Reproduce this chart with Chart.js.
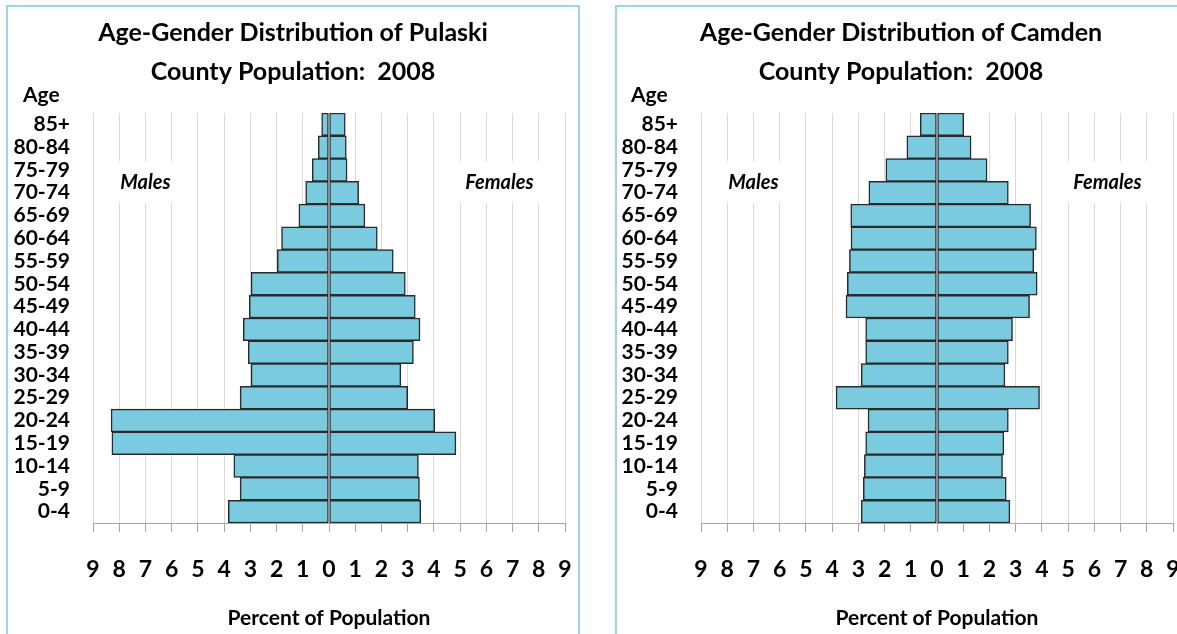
<!DOCTYPE html>
<html><head><meta charset="utf-8">
<script src="https://cdn.jsdelivr.net/npm/chart.js@4.4.0/dist/chart.umd.min.js"></script>
<style>
html,body{margin:0;padding:0;background:#fff;width:1177px;height:634px;overflow:hidden;position:relative;}
.frame{position:absolute;top:5px;height:700px;border:2px solid #9dd3e4;box-sizing:border-box;}
.wrap{position:absolute;top:0;width:590px;height:634px;}
</style></head><body>
<div class="frame" style="left:6px;width:574px"></div>
<div class="frame" style="left:615px;width:600px"></div>
<div class="wrap" style="left:0"><canvas id="c1"></canvas></div>
<div class="wrap" style="left:608px"><canvas id="c2"></canvas></div>
<script>
const ageGroups = ['85+','80-84','75-79','70-74','65-69','60-64','55-59','50-54','45-49','40-44','35-39','30-34','25-29','20-24','15-19','10-14','5-9','0-4'];
const pulaskiMales   = [0.28,0.41,0.64,0.89,1.15,1.81,1.97,2.97,3.04,3.27,3.08,2.97,3.39,8.31,8.28,3.63,3.39,3.84];
const pulaskiFemales = [0.62,0.66,0.69,1.13,1.37,1.84,2.45,2.91,3.29,3.47,3.22,2.74,3.00,4.03,4.84,3.41,3.45,3.50];
const camdenMales    = [0.64,1.15,1.95,2.60,3.29,3.28,3.34,3.42,3.47,2.72,2.72,2.89,3.85,2.63,2.72,2.77,2.81,2.89];
const camdenFemales  = [1.02,1.30,1.91,2.72,3.57,3.79,3.69,3.82,3.53,2.88,2.72,2.59,3.91,2.72,2.55,2.50,2.64,2.78];
const axisMin = -9, axisMax = 9, axisStep = 1;
const pulaskiTitle = ['Age-Gender Distribution of Pulaski', 'County Population:  2008'];
const camdenTitle  = ['Age-Gender Distribution of Camden', 'County Population:  2008'];
const axisTitle = 'Percent of Population';
const maleLabel = 'Males', femaleLabel = 'Females', ageLabel = 'Age';

Chart.defaults.font.family = 'Lato, "Open Sans", sans-serif';
Chart.defaults.color = '#000';

const barStyle = {
  backgroundColor: '#7bcbe0', borderColor: '#2a2a2a', borderWidth: 1.5,
  borderSkipped: false, barPercentage: 1, categoryPercentage: 1
};

const decor = {
  id: 'decor',
  beforeDatasetsDraw(chart) {
    const ctx = chart.ctx, xs = chart.scales.x;
    ctx.save();
    ctx.font = 'italic bold 20px Lato';
    ctx.textAlign = 'center';
    ctx.textBaseline = 'middle';
    const y = 183;
    const mx = xs.getPixelForValue(-7), fx = xs.getPixelForValue(6.5);
    ctx.fillStyle = '#fff';
    ctx.fillRect(mx - 40, y - 22, 80, 42);
    ctx.fillRect(fx - 40, y - 22, 80, 42);
    ctx.fillStyle = '#000';
    ctx.fillText(chart.options.plugins.decor.male, mx, y);
    ctx.fillText(chart.options.plugins.decor.female, fx, y);
    ctx.restore();
  },
  afterDatasetsDraw(chart) {
    const ctx = chart.ctx, xs = chart.scales.x, a = chart.chartArea;
    const x0 = xs.getPixelForValue(0);
    ctx.save();
    ctx.strokeStyle = '#8c8c8c';
    ctx.lineWidth = 2;
    ctx.beginPath();
    ctx.moveTo(x0, a.top);
    ctx.lineTo(x0, a.bottom);
    ctx.stroke();
    ctx.restore();
  },
  afterDraw(chart) {
    const ctx = chart.ctx, o = chart.options.plugins.decor;
    ctx.save();
    ctx.fillStyle = '#000';
    ctx.textBaseline = 'middle';
    ctx.textAlign = 'center';
    ctx.font = 'bold 25px Lato';
    ctx.fillText(o.title[0], 293, 33);
    ctx.fillText(o.title[1], 293, 72);
    ctx.textAlign = 'left';
    ctx.font = 'bold 21px Lato';
    ctx.fillText(o.age, 23, 95);
    ctx.restore();
  }
};

function pyramid(id, title, males, females) {
  return new Chart(document.getElementById(id), {
    type: 'bar',
    data: {
      labels: ageGroups,
      datasets: [
        Object.assign({ label: maleLabel, data: males.map(v => -v) }, barStyle),
        Object.assign({ label: femaleLabel, data: females }, barStyle)
      ]
    },
    options: {
      indexAxis: 'y',
      responsive: true,
      maintainAspectRatio: false,
      animation: false,
      devicePixelRatio: 1,
      layout: { padding: { top: 113, right: 25, left: 0, bottom: 0 } },
      plugins: {
        legend: { display: false }, tooltip: { enabled: false }, title: { display: false },
        colors: { enabled: false },
        decor: { title: title, male: maleLabel, female: femaleLabel, age: ageLabel }
      },
      scales: {
        x: {
          min: axisMin, max: axisMax, stacked: true,
          ticks: { stepSize: axisStep, autoSkip: false, maxRotation: 0, padding: 24,
                   callback: v => Math.abs(v), font: { size: 23, weight: 'bold' }, color: '#000' },
          grid: { color: '#d9d9d9', lineWidth: 1, tickColor: '#a6a6a6', tickLength: 9, drawTicks: true },
          border: { color: '#a6a6a6', width: 1 },
          title: { display: true, text: axisTitle, font: { size: 21, weight: 'bold' }, color: '#000', padding: { top: 0, bottom: 3 } },
          afterFit(s) { s.height = 111; s.paddingLeft = 0; s.paddingRight = 0; }
        },
        y: {
          stacked: true,
          ticks: { font: { size: 21, weight: 'bold' }, color: '#000', padding: 23, autoSkip: false },
          grid: { display: false, drawTicks: false },
          border: { display: false },
          afterFit(s) { s.width = 93; s.paddingTop = 0; s.paddingBottom = 0; }
        }
      }
    },
    plugins: [decor]
  });
}
pyramid('c1', pulaskiTitle, pulaskiMales, pulaskiFemales);
pyramid('c2', camdenTitle, camdenMales, camdenFemales);
</script>
</body></html>
